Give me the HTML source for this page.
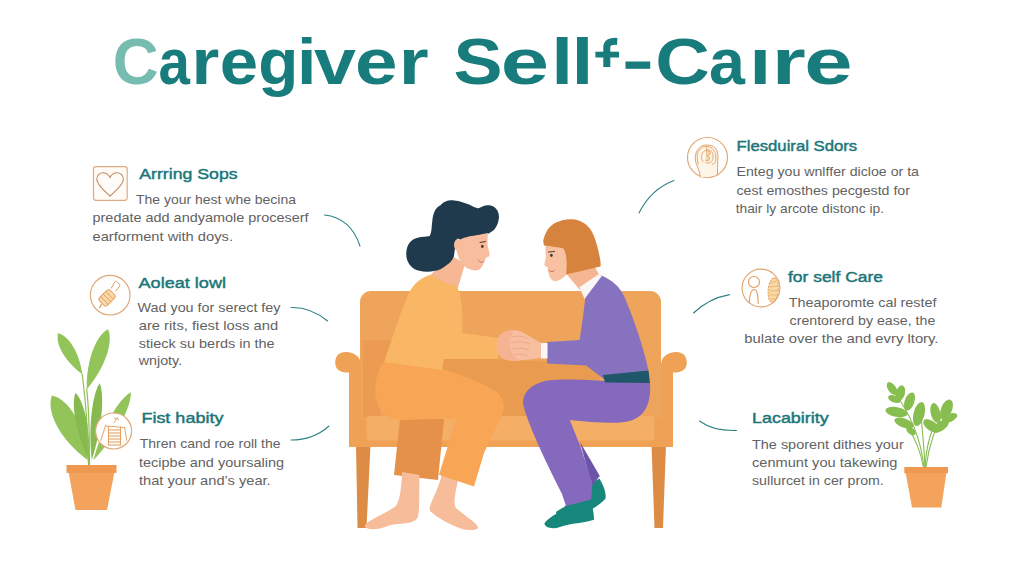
<!DOCTYPE html>
<html>
<head>
<meta charset="utf-8">
<title>Caregiver Self-Care</title>
<style>
html,body{margin:0;padding:0;background:#fff;}
body{width:1024px;height:576px;overflow:hidden;font-family:"Liberation Sans",sans-serif;}
svg{display:block;}
text{font-family:"Liberation Sans",sans-serif;}
.ttl{font-weight:bold;font-size:64px;fill:#17797b;}
.hd{font-size:15.5px;fill:#1b7678;stroke:#1b7678;stroke-width:0.45px;}
.bd{font-size:12.8px;fill:#626262;}
.cv{fill:none;stroke:#2e8284;stroke-width:1.1;stroke-linecap:round;}
.ic{fill:none;stroke:#e0a878;stroke-width:1.2;}
.io{fill:none;stroke:#e39a5a;stroke-width:1.1;stroke-linecap:round;stroke-linejoin:round;}
</style>
</head>
<body>
<svg width="1024" height="576" viewBox="0 0 1024 576">
<rect width="1024" height="576" fill="#ffffff"/>

<!-- TITLE -->
<g id="title" font-weight="bold" font-size="65.5">
<text transform="translate(112.70 84.0) scale(0.969 1)" fill="#76bcb0">C</text>
<text transform="translate(158.45 84.0) scale(0.862 1)" fill="#187b7c">a</text>
<text transform="translate(191.39 84.0) scale(1.090 1)" fill="#187b7c">r</text>
<text transform="translate(219.81 84.0) scale(1.053 1)" fill="#187b7c">e</text>
<text transform="translate(258.21 84.0) scale(1.002 1)" fill="#187b7c">g</text>
<text transform="translate(297.01 84.0) scale(1.068 1)" fill="#187b7c">i</text>
<text transform="translate(313.91 84.0) scale(1.151 1)" fill="#187b7c">v</text>
<text transform="translate(355.12 84.0) scale(1.167 1)" fill="#187b7c">e</text>
<text transform="translate(398.73 84.0) scale(1.174 1)" fill="#187b7c">r</text>
<text transform="translate(453.58 84.0) scale(1.124 1)" fill="#187b7c">S</text>
<text transform="translate(500.71 84.0) scale(1.325 1)" fill="#187b7c">e</text>
<text transform="translate(551.20 84.0) scale(1.202 1)" fill="#187b7c">l</text>
<text transform="translate(571.60 84.0) scale(1.202 1)" fill="#187b7c">l</text>
<text transform="translate(655.20 84.0) scale(1.154 1)" fill="#187b7c">C</text>
<text transform="translate(709.01 84.0) scale(0.985 1)" fill="#187b7c">a</text>
<text transform="translate(749.33 84.0) scale(1.202 1)" fill="#187b7c">&#305;</text>
<text transform="translate(771.74 84.0) scale(1.333 1)" fill="#187b7c">r</text>
<text transform="translate(804.21 84.0) scale(1.325 1)" fill="#187b7c">e</text>
<path d="M606.800 67 L606.800 47.500 C606.800 42.500 610.500 41 617.200 41.400" fill="none" stroke="#187b7c" stroke-width="7"/>
<rect x="595.400" y="51.700" width="23.600" height="5.800" fill="#187b7c"/>
<rect x="625.500" y="61.500" width="24.700" height="7.300" fill="#187b7c"/>
</g>

<!-- TEXT BLOCKS -->
<g id="texts">
<!-- left 1 -->
<text class="hd" x="139.3" y="179.4" textLength="98.3" lengthAdjust="spacingAndGlyphs">Arrring Sops</text>
<text class="bd" x="136" y="204" textLength="160" lengthAdjust="spacingAndGlyphs">The your hest whe becina</text>
<text class="bd" x="92.5" y="222.3" textLength="216" lengthAdjust="spacingAndGlyphs">predate add andyamole proceserf</text>
<text class="bd" x="92.5" y="240.5" textLength="140.5" lengthAdjust="spacingAndGlyphs">earforment with doys.</text>
<!-- left 2 -->
<text class="hd" x="138.5" y="287.5" textLength="87.5" lengthAdjust="spacingAndGlyphs">Aoleat lowl</text>
<text class="bd" x="137.5" y="311.5" textLength="143" lengthAdjust="spacingAndGlyphs">Wad you for serect fey</text>
<text class="bd" x="138.7" y="330" textLength="139.5" lengthAdjust="spacingAndGlyphs">are rits, fiest loss and</text>
<text class="bd" x="138.7" y="347.7" textLength="136" lengthAdjust="spacingAndGlyphs">stieck su berds in the</text>
<text class="bd" x="138.7" y="364.8" textLength="43.5" lengthAdjust="spacingAndGlyphs">wnjoty.</text>
<!-- left 3 -->
<text class="hd" x="141.4" y="422.9" textLength="82" lengthAdjust="spacingAndGlyphs">Fist habity</text>
<text class="bd" x="139.8" y="448.4" textLength="140.7" lengthAdjust="spacingAndGlyphs">Thren cand roe roll the</text>
<text class="bd" x="139" y="466.5" textLength="145" lengthAdjust="spacingAndGlyphs">tecipbe and yoursaling</text>
<text class="bd" x="139" y="484.8" textLength="131.7" lengthAdjust="spacingAndGlyphs">that your and&#8217;s year.</text>
<!-- right 1 -->
<text class="hd" x="736.5" y="151.3" textLength="120.7" lengthAdjust="spacingAndGlyphs">Flesduiral Sdors</text>
<text class="bd" x="736.5" y="176" textLength="182.5" lengthAdjust="spacingAndGlyphs">Enteg you wnlffer dicloe or ta</text>
<text class="bd" x="736.5" y="195" textLength="173.5" lengthAdjust="spacingAndGlyphs">cest emosthes pecgestd for</text>
<text class="bd" x="735.7" y="213.2" textLength="148.3" lengthAdjust="spacingAndGlyphs">thair ly arcote distonc ip.</text>
<!-- right 2 -->
<text class="hd" x="788" y="281.7" textLength="95" lengthAdjust="spacingAndGlyphs">for self Care</text>
<text class="bd" x="788.8" y="306.7" textLength="147.7" lengthAdjust="spacingAndGlyphs">Theaporomte cal restef</text>
<text class="bd" x="789.6" y="325" textLength="145.7" lengthAdjust="spacingAndGlyphs">crentorerd by ease, the</text>
<text class="bd" x="744.3" y="342.8" textLength="194.2" lengthAdjust="spacingAndGlyphs">bulate over the and evry ltory.</text>
<!-- right 3 -->
<text class="hd" x="752" y="422.7" textLength="76.7" lengthAdjust="spacingAndGlyphs">Lacabirity</text>
<text class="bd" x="752" y="449" textLength="151.7" lengthAdjust="spacingAndGlyphs">The sporent dithes your</text>
<text class="bd" x="752" y="467" textLength="145.4" lengthAdjust="spacingAndGlyphs">cenmunt you takewing</text>
<text class="bd" x="752" y="484.5" textLength="131.8" lengthAdjust="spacingAndGlyphs">sullurcet in cer prom.</text>
</g>

<!-- CURVES -->
<g id="curves">
<path class="cv" d="M324.5 215 C343 217 354 228 360 246"/>
<path class="cv" d="M291 307.5 C307 307 318 313 327.5 321"/>
<path class="cv" d="M291 440 C307 440 319 435 329 426"/>
<path class="cv" d="M639 213 C647 197 659 186 674 180.5"/>
<path class="cv" d="M693.5 313 C704 303 716 297 729.5 294.6"/>
<path class="cv" d="M699.5 421 C709 428 722 431 736.5 430.5"/>
</g>

<!-- SOFA -->
<g id="sofa">
<!-- legs -->
<path d="M356 445 L370.5 445 L366.5 528 L357.5 528 Z" fill="#dd8c45"/>
<path d="M651.5 445 L666 445 L663 528 L654.5 528 Z" fill="#dd8c45"/>
<!-- back -->
<rect x="360" y="291" width="301" height="140" rx="11" fill="#efa45b"/>
<!-- arms / body -->
<path d="M346 352 C336 352 334.500 360 335.500 365 C336.500 371 343 373 349 372.500 L349 447 L673 447 L673 372.500 C679 373 685.500 371 686.500 365 C687.500 360 686 352 676 352 C668 352 661 357 661 365 L661 420 L361 420 L361 365 C361 357 354 352 346 352 Z" fill="#efa156"/>
<!-- shadow left of woman -->
<path d="M363 340 L396 340 L384 372 L380 417 L363 417 Z" fill="#eb9c52"/>
<!-- shadow seat between figures -->
<path d="M440 357 L600 364 L600 417 L395 417 Z" fill="#e99b50"/>
<!-- seat cushion -->
<rect x="366.500" y="416" width="288" height="24.500" rx="3" fill="#f4ae66"/>
</g>

<!-- PLACEHOLDERS: women, plants, icons appended below -->
<g id="women">
<!-- LEFT WOMAN -->
<!-- back leg -->
<path d="M400 419 L444 419 L438 480 L394 475 Z" fill="#e6914a"/>
<!-- back foot -->
<path d="M402 472 L419.500 475 C419 495 420 510 417.500 518 C412 526 395 522 385 527 C375 530.500 365 529.500 364.700 526 C366 521 385 514 396 506 C401 497 401 486 402 475 Z" fill="#f7bc99"/>
<!-- front foot -->
<path d="M441 475 L458 480 C455 495 453 503 456 508 C462 514 476 522 478 527 C478 531 468 530.500 462 529 C452 526 436 517 430 511 C428 506 436 495 441 478 Z" fill="#f7bc99"/>
<!-- pants -->
<path d="M384 361 C374 376 372 398 381 410 C387 418 396 421 404 420 L456.500 418 L439 474.800 L474 486.500 L484 453 L503 413 C505 405 503 398 497 392 C485 384 465 376 442 369 L400 358 Z" fill="#f8a655"/>
<!-- neck -->
<path d="M449 254 L430 276 L457 291 L465 264 Z" fill="#f5b794"/>
<!-- torso -->
<path d="M431 274.500 C422 277 413 284 409 293 C400 314 391 341 384.500 362 L442 370 L444 359 L498 359 L498 338 L462 333 C463.500 318 462 302 459 291 L456.400 286 C448 284 438 279.500 431 274.500 Z" fill="#f9b766"/>
<!-- hair -->
<path d="M432.300 221.300 C433 213 436 207 440.200 205.600 C444 201 449 200 454 200.400 C460 200.800 465 203 469.700 204.800 C473 206.500 476 208.500 478.400 208.200 C481 207.500 484 205 488.800 205.300 C495 205.500 499.500 211 498.900 217.800 C498.500 223 496.500 227 494 229.900 L488.800 233.400 C482 235 474 236 467.900 236.900 L462.700 240.400 L457.500 238.600 C455 243 455 250 454 256 C452 261 450 263 447.100 264.700 C443 268 439 270.500 434.900 270.800 C430 272 424 272 419.300 270.800 C411 269 405.500 261 406.300 252.500 C407 244 411 239.500 417.600 237.800 C422 236.500 426 237 429.700 236 C432 232 431.500 226 432.300 221.300 Z" fill="#1e3a4c"/>
<!-- face -->
<path d="M488 233 C487.500 238 487.500 241 487.500 244 C488 249 490 253 489.500 255.500 C489 257 487 257 486 257.500 C486 258 485.500 259.500 484 261.500 C483.500 264 482 267.500 479.500 269.500 C476 271.500 470 270 466 267.500 C461 264 458 258 457 252 C456 246 458 241 462 238.500 C468 236 478 235.500 488 233 Z" fill="#f7bd9c"/>
<ellipse cx="458" cy="245" rx="4" ry="6" fill="#f7bd9c"/>
<path d="M480 242.500 L485.500 241.500" stroke="#5a3a30" stroke-width="1" fill="none" stroke-linecap="round"/>
<ellipse cx="482.300" cy="246.300" rx="1.300" ry="1.600" fill="#4a342e"/>
<path d="M478 260 C480 262.500 482 263 484 261.500" stroke="#c9705a" stroke-width="1" fill="none" stroke-linecap="round"/>

<!-- RIGHT WOMAN -->
<!-- back shoe -->
<path d="M592 483 L599.500 478.500 C603 485 606.500 492 605.500 498.500 C601 504 594 508 590 510 L566 516 C560 516 556 514.500 556 512 C562 507 575 503 585 500 Z" fill="#16877a"/>
<!-- front shoe -->
<path d="M566 505 L590 499 C592 505 594 512 594 519.700 C585 523 570 523 560 527 C553 529.500 545 528 544.400 523.600 C547 518 560 513 566 505 Z" fill="#16877a"/>
<!-- back leg sliver -->
<path d="M580 442 L599.800 476 L592 486 Z" fill="#6c55a6"/>
<!-- pants -->
<path d="M650 382 L605 381 C590 380 565 378.500 548 380.500 C532 383 521 393 523.500 406 C530 430 550 470 562 494 L566 506 L591.300 499.400 L592.300 483 L581 448 L569.800 420 C590 422 610 424 624.500 422 C640 420 652 410 650 382 Z" fill="#8569bd"/>
<!-- neck -->
<path d="M563 270 L580 290 L600 276 L593 264 Z" fill="#f5b693"/>
<!-- top -->
<path d="M600 275 C612 279.500 620 287 624.500 297 C634 320 643 345 648.500 370.500 L604.500 379.500 L586 365.600 L547 363.400 L547 342 L579.600 340 C582 325 584 310 585.400 297 Z" fill="#8772bf"/>
<!-- collar -->
<path d="M579.500 287.300 L598.200 274.400 L602 275.800 L584.500 299 Z" fill="#fbf7f7"/>
<!-- belt -->
<path d="M603 375 L648.500 370.500 L650 383 L605 382.500 Z" fill="#205669"/>
<!-- face -->
<path d="M546 243 C545 249 545.500 254 546 257 C545.500 260 544 263 544.500 265.500 C545 266.500 546.500 266.500 547.500 267 C547.500 269 547.500 271 548.500 273 C549 276 550.500 279.500 553.500 281 C557 282 561 279.500 564.500 276.500 C568 273 570.500 268 571 262 C571 254 568 247 563 243.500 Z" fill="#f8c1a2"/>
<!-- hair -->
<path d="M543.200 241 C545 232 549.500 225.500 556 222.500 C562 219.500 569 218.500 575 219.500 C582 221 588 225 591.500 231 C595.500 238 598 248 599.500 256 C600.500 261 601 264 600.500 266.500 L566 274.500 C566.500 270 567 265 566.500 260 C566 254 565 251 563.500 248.500 C558 247 550 246 544 245.500 Z" fill="#d6833e"/>
<path d="M548.500 252 L554.500 251.500" stroke="#5a3a30" stroke-width="1" fill="none" stroke-linecap="round"/>
<ellipse cx="551.400" cy="255.300" rx="1.300" ry="1.600" fill="#4a342e"/>
<path d="M549.500 270.500 C551 272 553 272 554.500 270.500" stroke="#c9705a" stroke-width="1" fill="none" stroke-linecap="round"/>

<!-- HANDS -->
<path d="M497 341 C498.500 334 506 329.500 514 330 C520 330.500 524 333 529 336 C533 338.500 537 341 541 342.500 L541 358 C533 359 526 360 519 360.500 C512 361.500 505 360.500 501 357 C497.500 353.500 496 347 497 341 Z" fill="#f7be9f"/>
<path d="M514 330 C511 335 509 341 510 347 C511 352 514 356 519 360.500 C512 361.500 505 360.500 501 357 C497.500 353.500 496 347 497 341 C498.500 334 506 329.500 514 330 Z" fill="#f5b391"/>
<path d="M512 337 C517 335.500 523 336 528 338.500 M511 343 C517 341 524 341.500 530 344 M512 349 C518 347.500 524 348 529 350 M515 354.500 C519 353.500 523 354 527 355.500" stroke="#eba283" stroke-width="0.800" fill="none" stroke-linecap="round"/>
<rect x="541" y="343" width="6.500" height="15.500" fill="#fbf7f7"/>
</g>
<g id="plants">
<!-- LEFT PLANT -->
<g id="lleaves">
<path d="M82.2 374.2 C79.5 352.6 68.4 335.5 58.1 333.3 C55.0 343.4 64.7 361.4 82.2 374.2 Z" fill="#93c45a"/>
<path d="M86.7 389.4 C105.3 367.5 113.6 341.3 108.1 329.2 C96.1 335.1 86.0 360.7 86.7 389.4 Z" fill="#93c45a"/>
<path d="M87.8 460.3 C85.4 426.1 68.9 398.9 51.9 395.6 C45.8 411.7 60.0 440.1 87.8 460.3 Z" fill="#93c45a"/>
<path d="M88.9 460.3 C90.7 430.5 84.3 401.6 75.6 392.8 C70.8 404.2 75.8 433.4 88.9 460.3 Z" fill="#86ba4e"/>
<path d="M91.7 460.3 C101.9 428.7 104.8 395.5 99.7 383.3 C92.2 394.2 88.2 427.2 91.7 460.3 Z" fill="#86ba4e"/>
<path d="M93.3 460.3 C116.3 435.7 131.8 406.1 130.8 392.2 C118.6 398.8 101.9 427.7 93.3 460.3 Z" fill="#93c45a"/>
</g>
<g fill="none" stroke="#8cc054" stroke-width="1.200" stroke-linecap="round">
<path d="M88.500 466 C88 430 85 395 82.200 374"/>
<path d="M89.500 466 C89.500 430 88 400 86.700 389"/>
</g>
<path d="M68.500 472 L114.500 472 L107 510 L75.500 510 Z" fill="#f4a35c"/>
<rect x="66.500" y="465" width="50" height="7.800" fill="#ee9850"/>

<!-- RIGHT PLANT -->
<g fill="none" stroke="#86bc4e" stroke-width="1.100" stroke-linecap="round">
<path d="M924 467 C921 440 912 415 892 389"/>
<path d="M925 467 C924 445 922 425 920 408"/>
<path d="M926 467 C929 445 936 425 946 408"/>
<path d="M925 467 C926 450 929 438 933 428"/>
<path d="M923.500 467 C920 450 915 438 909 430"/>
</g>
<g fill="#88be50">
<ellipse cx="892" cy="388.500" rx="4.0" ry="7.3" transform="rotate(-35 892 388.500)"/>
<ellipse cx="900.500" cy="393" rx="4.4" ry="7.8" transform="rotate(15 900.500 393)"/>
<ellipse cx="894.500" cy="399" rx="3.4" ry="6.7" transform="rotate(-70 894.500 399)"/>
<ellipse cx="909.500" cy="401.500" rx="4.8" ry="9.5" transform="rotate(20 909.500 401.500)"/>
<ellipse cx="896.500" cy="412" rx="4.8" ry="11.2" transform="rotate(-80 896.500 412)"/>
<ellipse cx="904" cy="423" rx="4.6" ry="10.1" transform="rotate(-70 904 423)"/>
<ellipse cx="919" cy="414" rx="5.5" ry="12.3" transform="rotate(14 919 414)"/>
<ellipse cx="911" cy="431" rx="3.2" ry="5.6" transform="rotate(-50 911 431)"/>
<ellipse cx="935.500" cy="413" rx="4.8" ry="10.1" transform="rotate(-14 935.500 413)"/>
<ellipse cx="946.500" cy="409.500" rx="5.5" ry="10.6" transform="rotate(22 946.500 409.500)"/>
<ellipse cx="949.500" cy="418" rx="4.0" ry="8.4" transform="rotate(65 949.500 418)"/>
<ellipse cx="931.500" cy="426" rx="4.8" ry="9.5" transform="rotate(-55 931.500 426)"/>
<ellipse cx="941" cy="426" rx="4.6" ry="9.0" transform="rotate(55 941 426)"/>
</g>
<path d="M905.600 472.500 L946.500 472.500 L941.300 507.500 L912 507.500 Z" fill="#f4a35c"/>
<rect x="904.300" y="467" width="43.700" height="6.200" fill="#ee9850"/>
</g>
<g id="icons">
<!-- icon 1: heart in square -->
<rect x="93.500" y="166.600" width="33.700" height="33.700" rx="2.500" class="ic" style="stroke:#dfaa82;fill:#fffcf8"/>
<path d="M110 196 C104 190.500 97 185 96.800 179.500 C96.600 175 100 172.600 103.500 172.800 C106.500 173 108.800 175 110 177.500 C111.200 175 113.500 173 116.500 172.800 C120 172.600 123.600 175 123.400 179.500 C123.200 185 116 190.500 110 196 Z" fill="none" stroke="#c08862" stroke-width="1.100"/>
<!-- icon 2: fist -->
<circle cx="110.200" cy="295.200" r="19.800" class="ic"/>
<g transform="rotate(-45 107.100 297.800)">
<rect x="99.600" y="292.300" width="15" height="11" rx="3" fill="#fad9a8" stroke="#e6a05e" stroke-width="1"/>
<path d="M103.400 292.500 L103.400 303 M107 292.500 L107 303 M110.600 292.500 L110.600 303" class="io" style="stroke-width:0.900"/>
</g>
<path d="M111.300 288 L115 281.800 C115.400 281.200 116.300 281.100 116.800 281.600 L119.400 284.300 C119.900 284.900 119.900 285.700 119.500 286.300 L115.800 291" class="io" style="stroke-width:1"/>
<path d="M101.300 304.600 L99.600 307.600" class="io" style="stroke-width:1.200"/>
<!-- icon 3: steps -->
<circle cx="113.600" cy="431" r="18" fill="#ffffff" class="ic" style="fill:#ffffff"/>
<g class="io" style="stroke-width:0.900">
<path d="M105.800 426 L124.600 427.500"/>
<path d="M105.800 425 L100.800 440.500"/>
<path d="M124.600 427.500 L126.700 440.500"/>
<path d="M108.500 426.500 L108.500 445 M120.500 427 L120.500 445"/>
<path d="M108.500 430 L120.500 430 M108.500 433 L120.500 433 M108.500 436 L120.500 436 M108.500 439 L120.500 439 M108.500 442 L120.500 442 M108.500 445 L120.500 445" style="stroke-width:1.200"/>
<path d="M114 422.500 L117.500 417.500 M114.500 418 L118.500 419.500"/>
</g>
<!-- icon 4: head -->
<circle cx="707.500" cy="157.500" r="20" class="ic"/>
<g transform="translate(0 1.200)">
<path d="M700.400 176 C700 168 695 163 695.200 157 C695.500 148.500 700.500 143.800 706.700 143.800 C713.500 143.800 717.600 147.500 717.900 154 C718.200 161 717.200 167 717.400 173.500" fill="#fef5e9" stroke="#e3a266" stroke-width="1" stroke-linecap="round"/>
<g class="io" style="stroke-width:0.900;stroke:#e3a266">
<path d="M698.300 163 C696.800 158 696.800 154 697.800 151.500 C699.500 147.500 702.500 145.300 706 145.200 C711 145.200 715 148.500 715.700 154 C716 157.500 715.800 160 715 161.500 C714.300 162.700 713.200 163 712.200 162.900"/>
<path d="M703 160.500 C701 158 701 153 703.500 150.500 C706 148 710 148 712 151 C713.800 154 713.500 158 711.500 160.500 C710 162 707.500 162.300 706 161.500"/>
<path d="M706.700 145.500 L706.700 154.500"/>
<path d="M707 150 C709.500 149 711 151 710 153 C709.200 154.500 707.500 154.800 706.800 154.400 C709 155.500 710.500 157 709 159 C708 160 706.500 160 705.500 159.200" fill="#f6d5a2"/>
</g>
</g>
<!-- icon 5: person + leaf -->
<circle cx="761" cy="288" r="18.900" class="ic"/>
<circle cx="754" cy="282" r="5.500" class="io"/>
<path d="M749.300 303 C749.300 296 751 289.500 754 289.500 C757 289.500 758.200 296 758.200 303.500" class="io"/>
<ellipse cx="773.200" cy="290" rx="5" ry="12.300" transform="rotate(6 773.200 290)" fill="#f9d9a4" stroke="#e39a5a" stroke-width="1" stroke-dasharray="2 1"/>
<path d="M770 283 L776 281.500 M769.500 287 L777 286 M769.500 291 L777.500 290.500 M770 295 L777 295 M771 299 L776 299" class="io" style="stroke-width:0.800;stroke:#eab070"/>
</g>
</svg>
</body>
</html>
